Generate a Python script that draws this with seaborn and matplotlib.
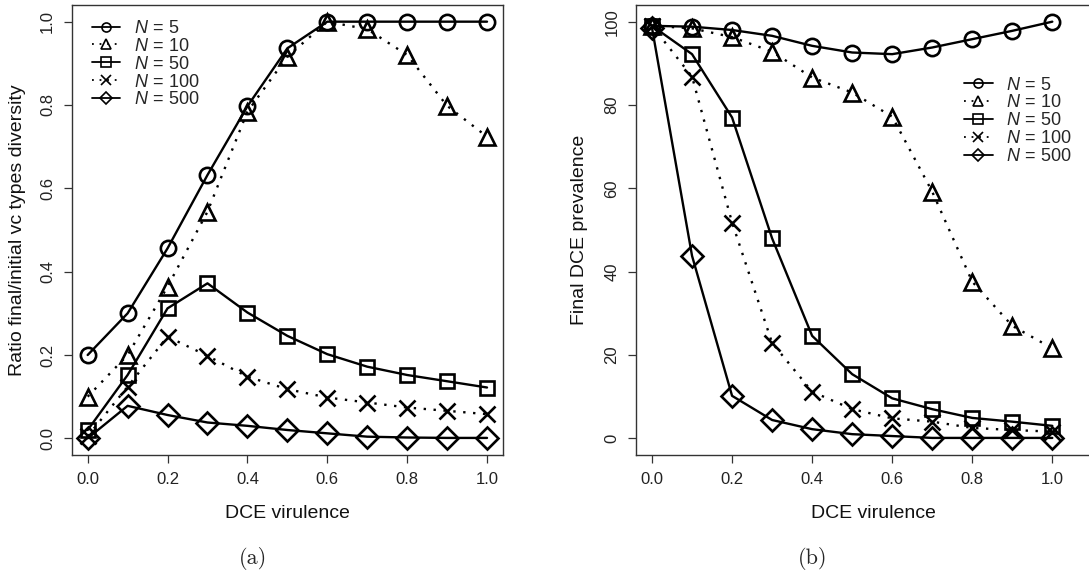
import numpy as np
import pandas as pd
import matplotlib
matplotlib.use("Agg")
import matplotlib.pyplot as plt
import seaborn as sns

# ---- data ----
virulence = [0.0, 0.1, 0.2, 0.3, 0.4, 0.5, 0.6, 0.7, 0.8, 0.9, 1.0]
labels = [r"$N\,=\,5$", r"$N\,=\,10$", r"$N\,=\,50$", r"$N\,=\,100$", r"$N\,=\,500$"]

div_N5 = [0.20, 0.30, 0.456, 0.632, 0.797, 0.936, 1.0, 1.0, 1.0, 1.0, 1.0]
div_N10 = [0.10, 0.20, 0.364, 0.544, 0.784, 0.916, 1.0, 0.982, 0.92, 0.798, 0.724]
div_N50 = [0.02, 0.152, 0.312, 0.372, 0.302, 0.246, 0.202, 0.172, 0.152, 0.137, 0.122]
div_N100 = [0.005, 0.124, 0.244, 0.198, 0.148, 0.118, 0.098, 0.086, 0.074, 0.066, 0.058]
div_N500 = [0.0, 0.078, 0.056, 0.038, 0.030, 0.020, 0.012, 0.004, 0.002, 0.001, 0.001]

prev_N5 = [99.0, 98.8, 98.0, 96.6, 94.2, 92.6, 92.2, 93.8, 95.8, 97.8, 100.0]
prev_N10 = [99.0, 98.4, 96.3, 92.8, 86.6, 83.0, 77.2, 59.2, 37.6, 27.0, 21.6]
prev_N50 = [99.0, 92.2, 77.0, 48.0, 24.6, 15.4, 9.6, 7.0, 4.9, 4.0, 3.0]
prev_N100 = [99.0, 86.8, 51.8, 22.9, 11.2, 7.0, 4.8, 4.0, 2.5, 2.0, 1.6]
prev_N500 = [98.5, 43.8, 10.2, 4.4, 2.2, 1.0, 0.55, 0.1, 0.1, 0.1, 0.1]

diversity = [div_N5, div_N10, div_N50, div_N100, div_N500]
prevalence = [prev_N5, prev_N10, prev_N50, prev_N100, prev_N500]

# ---- styles ----
markers = ["o", "^", "s", "x", "D"]
msizes = [11, 12, 10.5, 11, 11.5]
dotted = (0, (1, 3.2))
lstyles = ["-", dotted, "-", dotted, "-"]

sns.set_theme(style="ticks")
plt.rcParams["font.family"] = ["Liberation Sans", "DejaVu Sans"]
plt.rcParams["mathtext.fontset"] = "custom"
plt.rcParams["mathtext.rm"] = "Liberation Sans"
plt.rcParams["mathtext.it"] = "Liberation Sans:italic"

W, H = 1089, 576
fig = plt.figure(figsize=(W / 100, H / 100), dpi=100)
fig.patch.set_facecolor("white")

axL = fig.add_axes([71.7 / W, (H - 455) / H, 431.3 / W, 450 / H])
axR = fig.add_axes([636 / W, (H - 455) / H, 474 / W, 450 / H])


def draw(ax, series):
    for i, vals in enumerate(series):
        df = pd.DataFrame({"x": virulence, "y": vals})
        sns.lineplot(data=df, x="x", y="y", ax=ax, color="black",
                     linewidth=1.7, linestyle=lstyles[i], marker=markers[i],
                     markersize=msizes[i], markerfacecolor="none",
                     markeredgecolor="black", markeredgewidth=1.9,
                     label=labels[i], legend=False)


draw(axL, diversity)
draw(axR, prevalence)

for ax in (axL, axR):
    ax.set_facecolor("white")
    for s in ax.spines.values():
        s.set_color("#333333")
        s.set_linewidth(1.0)
        s.set_visible(True)
    ax.set_xticks([0.0, 0.2, 0.4, 0.6, 0.8, 1.0])
    ax.set_xticklabels(["0.0", "0.2", "0.4", "0.6", "0.8", "1.0"])
    ax.tick_params(axis="both", direction="out", length=6, width=0.9,
                   color="#333333", labelsize=12, labelcolor="#222222", pad=6)
    ax.set_xlabel("DCE virulence", fontsize=14, labelpad=13, color="#111111")
    ax.grid(False)

axL.set_xlim(-0.04, 1.04)
axL.set_ylim(-0.04, 1.04)
axL.set_yticks([0.0, 0.2, 0.4, 0.6, 0.8, 1.0])
axL.set_yticklabels(["0.0", "0.2", "0.4", "0.6", "0.8", "1.0"], rotation=90, va="center")
axL.set_ylabel("Ratio final/initial vc types diversity", fontsize=14, labelpad=10, color="#111111")

axR.set_xlim(-0.04, 474 / 400.3 - 0.04)
axR.set_ylim(-4, 104)
axR.set_yticks([0, 20, 40, 60, 80, 100])
axR.set_yticklabels(["0", "20", "40", "60", "80", "100"], rotation=90, va="center")
axR.set_ylabel("Final DCE prevalence", fontsize=14, labelpad=12, color="#111111")


def add_legend(ax, anchor):
    leg = ax.legend(loc="upper left", bbox_to_anchor=anchor, frameon=False,
                    fontsize=13, handlelength=1.6, handletextpad=0.75,
                    labelspacing=0.05, borderaxespad=0, borderpad=0)
    for h in leg.legend_handles:
        h.set_markersize(6.5)
        h.set_markeredgewidth(1.2)
        h.set_linewidth(1.3)
    return leg


add_legend(axL, (0.046, 0.967))
add_legend(axR, (0.692, 0.841))

fig.text(253 / W, 1 - 558 / H, "(a)", family="cmr10", fontsize=16,
         ha="center", va="center")
fig.text(813 / W, 1 - 558 / H, "(b)", family="cmr10", fontsize=16,
         ha="center", va="center")

fig.savefig("out.png", dpi=100, facecolor="white")
